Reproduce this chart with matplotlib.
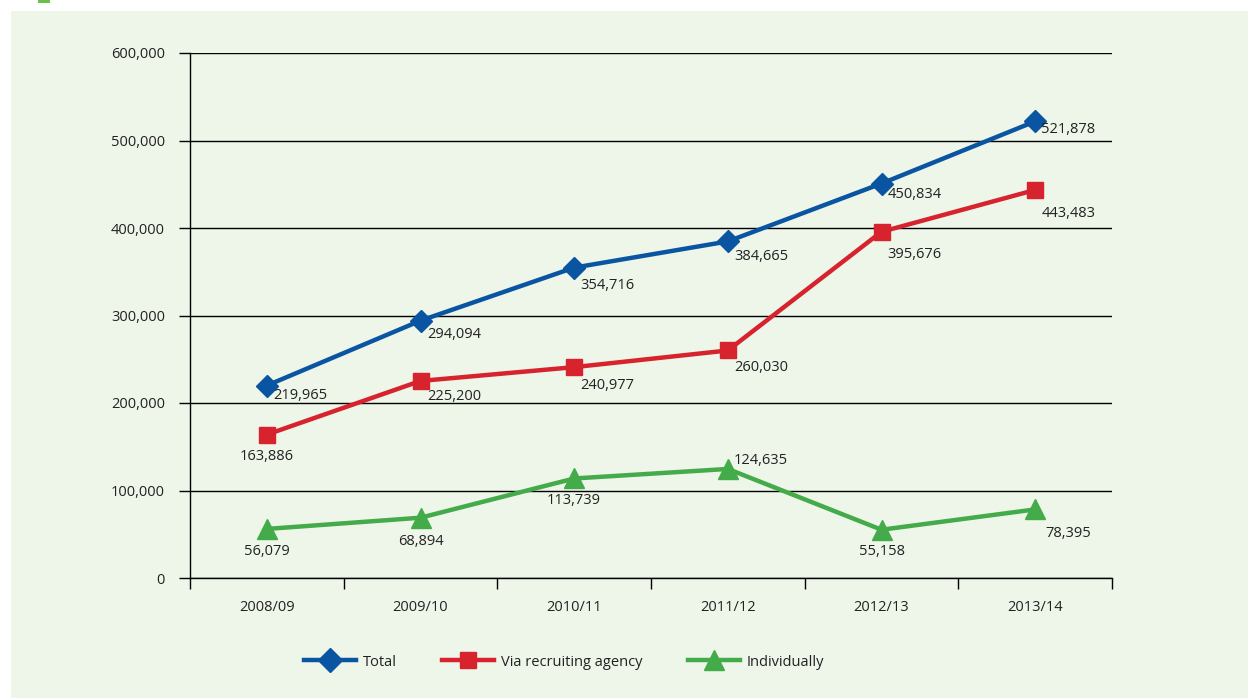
import matplotlib.pyplot as plt
from matplotlib.ticker import FuncFormatter
from matplotlib.lines import Line2D
from matplotlib.patches import Rectangle

# --- Data ---
years = ["2008/09", "2009/10", "2010/11", "2011/12", "2012/13", "2013/14"]
total = [219965, 294094, 354716, 384665, 450834, 521878]
agency = [163886, 225200, 240977, 260030, 395676, 443483]
individual = [56079, 68894, 113739, 124635, 55158, 78395]

blue = "#0a55a2"
red = "#d6232e"
green = "#43ab4a"
bg = "#eef5e9"

plt.rcParams["font.family"] = ["Open Sans", "DejaVu Sans"]

fig = plt.figure(figsize=(12.48, 6.98), dpi=100)
fig.patch.set_facecolor("white")
# light green panel
fig.patches.append(Rectangle((11 / 1248, 0), 1 - 11 / 1248, 1 - 11 / 698,
                             transform=fig.transFigure, facecolor=bg,
                             edgecolor="none", zorder=-5))
# small green fragment of the clipped heading mark
fig.patches.append(Rectangle((38 / 1248, 1 - 3 / 698), 12 / 1248, 3 / 698,
                             transform=fig.transFigure, facecolor="#6cc04a",
                             edgecolor="none", zorder=-5))

ax = fig.add_axes([190 / 1248, 1 - 578 / 698, 922 / 1248, 525 / 698])
ax.set_zorder(2)
ax.set_facecolor("none")

x = list(range(len(years)))
ax.plot(x, total, color=blue, lw=3.2, marker="D", ms=11, zorder=4)
ax.plot(x, agency, color=red, lw=3.2, marker="s", ms=11, zorder=4)
ax.plot(x, individual, color=green, lw=3.2, marker="^", ms=14, zorder=4)

ax.set_xlim(-0.5, len(years) - 0.5)
ax.set_ylim(0, 600000)
ax.set_yticks(range(0, 600001, 100000))
ax.yaxis.set_major_formatter(FuncFormatter(lambda v, p: f"{int(v):,}"))
ax.grid(axis="y", color="black", lw=1.0, zorder=1)
ax.tick_params(axis="y", length=8, width=1.0, pad=10, labelsize=10.5,
               labelcolor="#222222", color="black")

ax.set_xticks([i - 0.5 for i in range(len(years) + 1)])
ax.set_xticklabels([])
ax.set_xticks(x, minor=True)
ax.set_xticklabels(years, minor=True)
ax.tick_params(axis="x", which="major", length=8, width=1.0, direction="out")
ax.tick_params(axis="x", which="minor", length=0, pad=16, labelsize=10.5,
               labelcolor="#222222")

for s in ["top", "right"]:
    ax.spines[s].set_visible(False)
ax.spines["left"].set_linewidth(1.0)
ax.spines["bottom"].set_linewidth(1.0)

# --- Data labels (offsets in points) ---
fmt = lambda v: f"{v:,}"
tot_off = [(24, -7), (24, -10), (24, -13), (24, -11), (24, -8), (24, -6)]
ag_off = [(0, -16), (24, -11), (24, -13), (24, -12), (24, -16), (24, -17)]
ind_off = [(0, -16), (0, -17), (0, -16), (24, 6), (0, -16), (24, -17)]
for series, offs in [(total, tot_off), (agency, ag_off), (individual, ind_off)]:
    for i, v in enumerate(series):
        ax.annotate(fmt(v), (i, v), textcoords="offset points", xytext=offs[i],
                    ha="center", va="center", fontsize=10.5, color="#222222",
                    zorder=5)

# --- Legend ---
handles = [
    Line2D([], [], color=blue, lw=3.2, marker="D", ms=12),
    Line2D([], [], color=red, lw=3.2, marker="s", ms=12),
    Line2D([], [], color=green, lw=3.2, marker="^", ms=14),
]
fig.legend(handles, ["Total", "Via recruiting agency", "Individually"],
           loc="center", bbox_to_anchor=(564 / 1248, 1 - 662 / 698), ncol=3,
           frameon=False, fontsize=10.5, handlelength=3.6, columnspacing=3.1,
           handletextpad=0.45, labelcolor="#222222")

fig.savefig("out.png", dpi=100, facecolor=fig.get_facecolor())
